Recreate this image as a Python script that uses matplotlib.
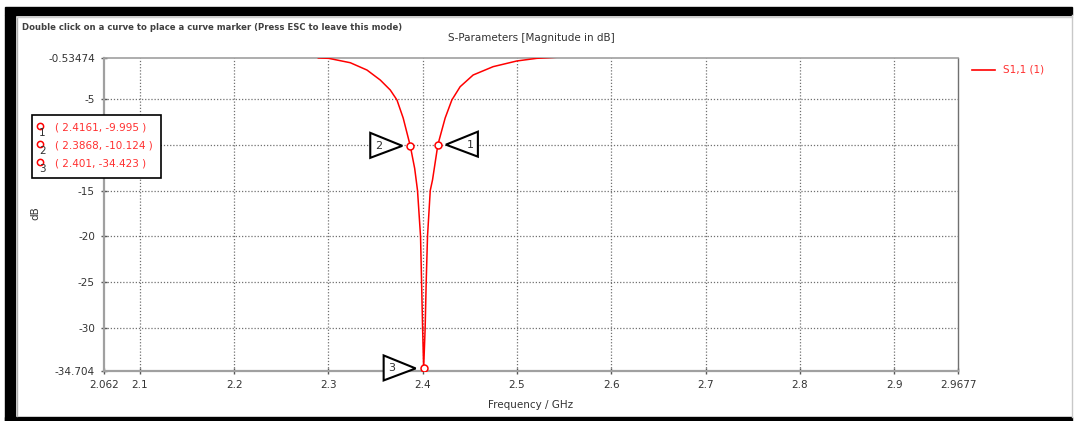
import matplotlib
matplotlib.use("Agg")
import matplotlib.pyplot as plt
from matplotlib.patches import Rectangle, Polygon
from matplotlib.lines import Line2D
from matplotlib.transforms import IdentityTransform

# S1,1 magnitude (dB)
freq = [2.2893, 2.3002, 2.3232, 2.3409, 2.3550, 2.3656, 2.3727, 2.3793, 2.3868,
        2.3915, 2.3945, 2.3977, 2.3988, 2.3999, 2.4010,
        2.4026, 2.4037, 2.4051, 2.4080, 2.4104, 2.4161, 2.4238, 2.4309,
        2.4397, 2.4535, 2.4747, 2.4998, 2.5210, 2.5422]
s11 = [-0.53, -0.57, -1.05, -1.85, -2.94, -4.03, -5.12, -7.09, -10.124,
       -12.6, -15.0, -20.0, -25.0, -30.0, -34.423,
       -30.0, -25.0, -20.0, -15.0, -13.85, -9.995, -7.09, -5.12,
       -3.67, -2.39, -1.48, -0.86, -0.57, -0.45]

# curve markers
marker_f = [2.4161, 2.3868, 2.401]
marker_db = [-9.995, -10.124, -34.423]
marker_side = ["right", "left", "left"]   # which side the flag sits on

xticks = [2.062, 2.1, 2.2, 2.3, 2.4, 2.5, 2.6, 2.7, 2.8, 2.9, 2.9677]
xticklabels = ["2.062", "2.1", "2.2", "2.3", "2.4", "2.5", "2.6", "2.7", "2.8", "2.9", "2.9677"]
yticks = [-0.53474, -5, -10, -15, -20, -25, -30, -34.704]
yticklabels = ["-0.53474", "-5", "-10", "-15", "-20", "-25", "-30", "-34.704"]

W, H = 1075, 421
plt.rcParams['font.family'] = ['DejaVu Sans']
plt.rcParams['axes.unicode_minus'] = False

def px(x, y):
    # screenshot pixel -> figure fraction
    return x / W, 1 - y / H

fig = plt.figure(figsize=(W / 100, H / 100), dpi=100)
fig.patch.set_facecolor('white')

# window frame of the screenshot
fig.add_artist(Rectangle(px(5, 15), 1067 / W, 8 / H, transform=fig.transFigure, color='black', zorder=0))
fig.add_artist(Rectangle(px(5, 421), 10 / W, 406 / H, transform=fig.transFigure, color='black', zorder=0))
fig.add_artist(Rectangle(px(5, 421), 1067 / W, 4 / H, transform=fig.transFigure, color='black', zorder=0))
fig.add_artist(Line2D([17 / W, 17 / W], [1 - 17 / H, 1 - 416 / H], transform=fig.transFigure, color='#b0b0b0', lw=1))
fig.add_artist(Line2D([17 / W, 1072 / W], [1 - 17 / H, 1 - 17 / H], transform=fig.transFigure, color='#d0d0d0', lw=1))
fig.add_artist(Line2D([1072 / W, 1072 / W], [1 - 15 / H, 1 - 417 / H], transform=fig.transFigure, color='#c8c8c8', lw=1))

x0, y0 = px(104, 371)
x1, y1 = px(958, 58)
ax = fig.add_axes([x0, y0, x1 - x0, y1 - y0])
ax.plot(freq, s11, color='red', lw=1.1, zorder=3)
ax.plot(marker_f, marker_db, 'o', mfc='white', mec='red', ms=5, mew=1.1, zorder=4)

ax.set_xlim(xticks[0], xticks[-1])
ax.set_ylim(yticks[-1], yticks[0])
ax.set_xticks(xticks)
ax.set_xticklabels(xticklabels)
ax.set_yticks(yticks)
ax.set_yticklabels(yticklabels)
ax.tick_params(direction='inout', length=5, width=1, colors='#555555', labelcolor='#333333',
               labelsize=7.5, pad=4)
ax.get_yticklabels()[2].set_visible(False)  # "-10" sits under the marker box
ax.grid(True, color='#707070', linestyle=(0, (1, 1.5)), lw=0.9)
for gl in [ax.xaxis.get_gridlines()[0], ax.xaxis.get_gridlines()[-1],
           ax.yaxis.get_gridlines()[0], ax.yaxis.get_gridlines()[-1]]:
    gl.set_visible(False)
for s in ['left', 'bottom']:
    ax.spines[s].set_color('#a0a0a0')
    ax.spines[s].set_linewidth(1.6)
ax.spines['top'].set_color('#a0a0a0')
ax.spines['top'].set_linewidth(1.2)
ax.spines['right'].set_color('#707070')
ax.spines['right'].set_linewidth(1)

# texts
fig.text(*px(22, 28), "Double click on a curve to place a curve marker (Press ESC to leave this mode)",
         fontsize=6.1, fontweight='bold', color='#404040', va='center', ha='left')
fig.text(*px(531, 38), "S-Parameters [Magnitude in dB]", fontsize=7.5, color='#333333', ha='center', va='center')
fig.text(*px(531, 405), "Frequency / GHz", fontsize=7.5, color='#333333', ha='center', va='center')
fig.text(*px(35, 213), "dB", fontsize=7.5, color='#333333', ha='center', va='center', rotation=90)

# legend
fig.add_artist(Line2D([972 / W, 995 / W], [1 - 70 / H] * 2, transform=fig.transFigure, color='red', lw=1.2))
fig.text(*px(1003, 70), "S1,1 (1)", fontsize=7.5, color='#ff3030', ha='left', va='center')

# marker flags (triangles with numbers)
for i, (f, d, side) in enumerate(zip(marker_f, marker_db, marker_side)):
    mx, my = ax.transData.transform((f, d))
    s = 1 if side == "right" else -1
    tri = [(mx + s * 8, my), (mx + s * 40, my + 13), (mx + s * 40, my - 12)]
    fig.add_artist(Polygon(tri, closed=True, transform=IdentityTransform(), facecolor='white',
                           edgecolor='black', lw=1.5, zorder=5))
    fig.text(mx + s * 32, my, str(i + 1), transform=IdentityTransform(), fontsize=8,
             color='#303030', ha='center', va='center', zorder=6)

# marker readout box
fig.add_artist(Rectangle(px(32, 178), 129 / W, 63 / H, transform=fig.transFigure, facecolor='white',
                         edgecolor='black', lw=1.2, zorder=5))
for i, (f, d) in enumerate(zip(marker_f, marker_db)):
    ty = 128 + 18 * i
    fig.add_artist(Line2D([39.5 / W], [1 - (ty - 2) / H], transform=fig.transFigure, marker='o', ms=4.5,
                          mfc='white', mec='red', mew=1.1, zorder=6))
    fig.text(*px(42.5, ty + 5), str(i + 1), fontsize=7.5, color='#303030', ha='center', va='center', zorder=6)
    fig.text(*px(55, ty), f"( {f}, {d} )", fontsize=7.5, color='#ff3030', ha='left', va='center', zorder=6)

fig.savefig("out.png", dpi=100)
